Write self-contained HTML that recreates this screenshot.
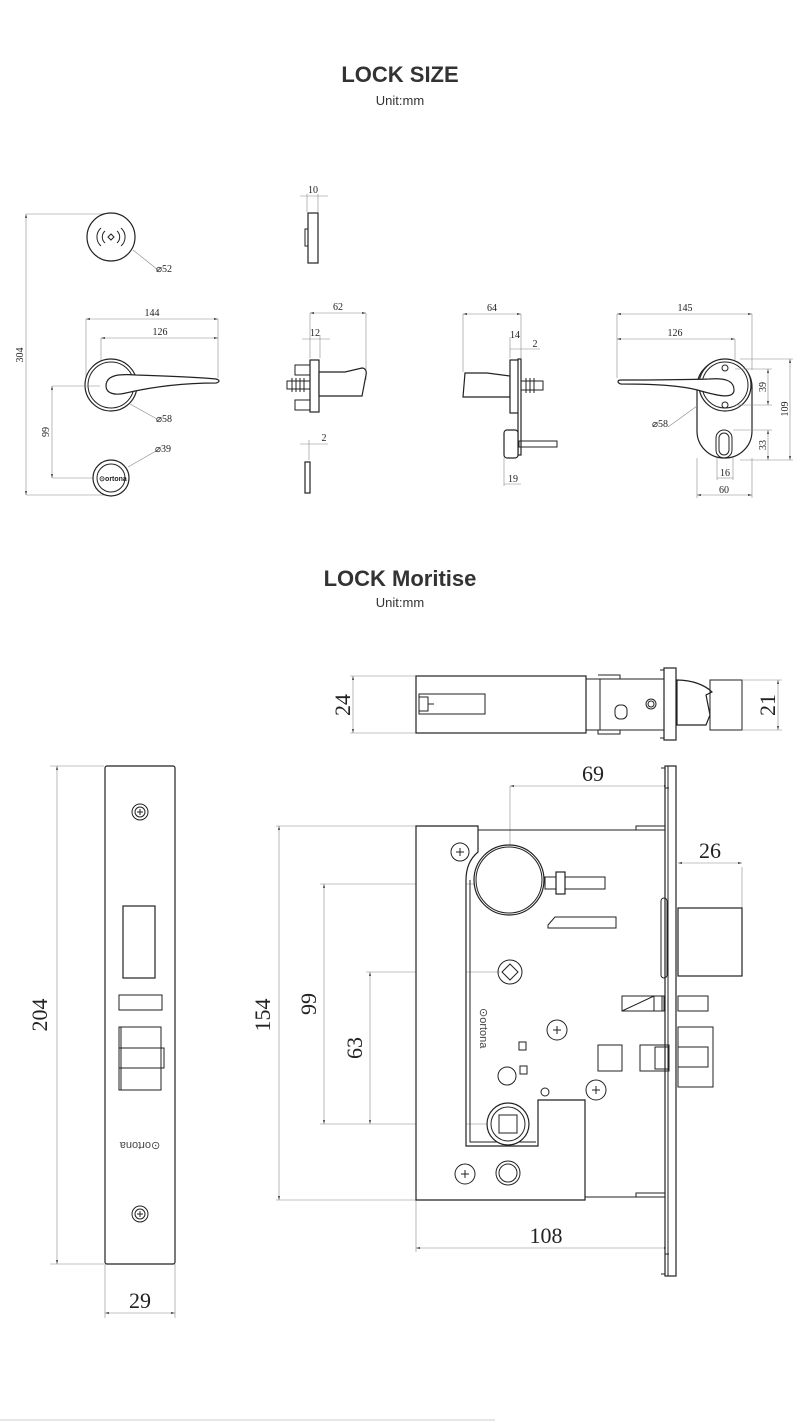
<!DOCTYPE html>
<html><head><meta charset="utf-8"><style>
html,body{margin:0;padding:0;background:#fff;}
svg{display:block}
.t{font-family:"Liberation Sans",sans-serif;fill:#333;text-anchor:middle}
.d{font-family:"Liberation Serif",serif;fill:#222;text-anchor:middle}
.l{stroke:#222;fill:none;stroke-width:1}
.g{stroke:#888;fill:none;stroke-width:0.6}
.k{stroke:#222;fill:#fff;stroke-width:1.2}
</style></head><body>
<svg width="800" height="1423" viewBox="0 0 800 1423" xmlns="http://www.w3.org/2000/svg">
<defs>
<marker id="a" viewBox="0 0 10 6" refX="10" refY="3" markerWidth="8" markerHeight="4" orient="auto-start-reverse"><path d="M0,0L10,3L0,6z" fill="#555"/></marker>
</defs>
<text class="t" x="400" y="82" font-size="22" font-weight="bold">LOCK SIZE</text>
<text class="t" x="400" y="105" font-size="13">Unit:mm</text>
<text class="t" x="400" y="586" font-size="22" font-weight="bold">LOCK Moritise</text>
<text class="t" x="400" y="607" font-size="13">Unit:mm</text>

<!-- TOP: left column -->
<g>
<line class="g" x1="26" y1="214" x2="110" y2="214"/><line class="g" x1="26" y1="495" x2="110" y2="495"/>
<line class="g" x1="26" y1="214" x2="26" y2="495" marker-start="url(#a)" marker-end="url(#a)"/>
<text class="d" font-size="10" transform="translate(23,355) rotate(-90)">304</text>
<circle class="k" cx="111" cy="237" r="24"/>
<path class="l" d="M101,228a12,12 0 0 0 0,18M105,231a8,8 0 0 0 0,12M121,228a12,12 0 0 1 0,18M117,231a8,8 0 0 1 0,12M108,237l3,-3l3,3l-3,3z" stroke-width="1.4"/>
<line class="g" x1="133" y1="250" x2="158" y2="270"/><text class="d" x="164" y="272" font-size="10">⌀52</text>
<line class="g" x1="86" y1="319" x2="218" y2="319" marker-start="url(#a)" marker-end="url(#a)"/><text class="d" x="152" y="316" font-size="10">144</text>
<line class="g" x1="101" y1="338" x2="218" y2="338" marker-start="url(#a)" marker-end="url(#a)"/><text class="d" x="160" y="335" font-size="10">126</text>
<line class="g" x1="86" y1="319" x2="86" y2="385"/><line class="g" x1="101" y1="338" x2="101" y2="385"/><line class="g" x1="218" y1="319" x2="218" y2="378"/>
<circle class="k" cx="111" cy="385" r="26"/><circle class="l" cx="111" cy="385" r="23"/>
<path class="k" d="M106,386c0,-12 15,-12 30,-11c30,1 60,2 80,4c4,1 4,3 0,4c-30,0 -60,3 -90,10c-12,3 -20,0 -20,-7z" stroke-width="1.6"/>
<line class="g" x1="130" y1="404" x2="157" y2="419"/><text class="d" x="164" y="422" font-size="10">⌀58</text>
<line class="g" x1="52" y1="386" x2="100" y2="386"/><line class="g" x1="52" y1="478" x2="95" y2="478"/>
<line class="g" x1="52" y1="386" x2="52" y2="478" marker-start="url(#a)" marker-end="url(#a)"/>
<text class="d" font-size="10" transform="translate(49,432) rotate(-90)">99</text>
<circle class="k" cx="111" cy="478" r="18" stroke-width="1.6"/><circle class="l" cx="111" cy="478" r="14"/>
<text x="113" y="481" font-family="Liberation Sans" font-size="7" font-weight="bold" text-anchor="middle" fill="#222">⊙ortona</text>
<line class="g" x1="128" y1="467" x2="156" y2="451"/><text class="d" x="163" y="452" font-size="10">⌀39</text>
</g>

<!-- side views -->
<g>
<line class="g" x1="307" y1="194" x2="307" y2="212"/><line class="g" x1="318" y1="194" x2="318" y2="212"/>
<line class="g" x1="300" y1="196" x2="328" y2="196"/><text class="d" x="313" y="193" font-size="10">10</text>
<rect class="k" x="308" y="213" width="10" height="50"/><rect class="l" x="305" y="229" width="3" height="17"/>

<line class="g" x1="310" y1="313" x2="366" y2="313" marker-start="url(#a)" marker-end="url(#a)"/><text class="d" x="338" y="310" font-size="10">62</text>
<line class="g" x1="310" y1="313" x2="310" y2="358"/><line class="g" x1="366" y1="313" x2="366" y2="380"/>
<line class="g" x1="302" y1="339" x2="330" y2="339"/><line class="g" x1="320" y1="335" x2="320" y2="358"/><text class="d" x="315" y="336" font-size="10">12</text>
<rect class="l" x="295" y="365" width="15" height="10"/><rect class="l" x="295" y="400" width="15" height="10"/>
<rect class="l" x="287" y="381" width="23" height="8"/><path class="l" d="M292,378v14M296,378v14M300,378v14M304,378v14"/>
<rect class="k" x="310" y="360" width="9" height="52"/>
<path class="k" d="M319,372h26l17,-4c3,0 5,3 4,7l-4,21h-43z"/>

<line class="g" x1="300" y1="444" x2="328" y2="444"/><line class="g" x1="309" y1="440" x2="309" y2="460"/><text class="d" x="324" y="441" font-size="10">2</text>
<rect class="k" x="305" y="462" width="5" height="31"/>

<line class="g" x1="463" y1="314" x2="521" y2="314" marker-start="url(#a)" marker-end="url(#a)"/><text class="d" x="492" y="311" font-size="10">64</text>
<line class="g" x1="463" y1="314" x2="463" y2="372"/><line class="g" x1="521" y1="314" x2="521" y2="358"/>
<line class="g" x1="510" y1="337" x2="510" y2="358"/><text class="d" x="515" y="338" font-size="10">14</text>
<line class="g" x1="510" y1="349" x2="540" y2="349"/><text class="d" x="535" y="347" font-size="10">2</text>
<path class="k" d="M465,373h22l23,3v21h-47z"/>
<rect class="k" x="510" y="360" width="9" height="53"/><rect class="k" x="518" y="359" width="3" height="96"/>
<rect class="l" x="521" y="381" width="22" height="9"/><path class="l" d="M526,378v15M530,378v15M534,378v15"/>
<rect class="k" x="504" y="430" width="14" height="28" rx="3"/><rect class="l" x="519" y="441" width="38" height="6"/>
<line class="g" x1="504" y1="458" x2="504" y2="486"/><line class="g" x1="504" y1="484" x2="521" y2="484"/><text class="d" x="513" y="482" font-size="10">19</text>

<line class="g" x1="617" y1="314" x2="752" y2="314" marker-start="url(#a)" marker-end="url(#a)"/><text class="d" x="685" y="311" font-size="10">145</text>
<line class="g" x1="617" y1="339" x2="735" y2="339" marker-start="url(#a)" marker-end="url(#a)"/><text class="d" x="675" y="336" font-size="10">126</text>
<line class="g" x1="617" y1="314" x2="617" y2="378"/><line class="g" x1="752" y1="314" x2="752" y2="370"/><line class="g" x1="735" y1="339" x2="735" y2="360"/>
<rect class="k" x="697" y="360" width="55" height="98" rx="27"/>
<circle class="k" cx="725" cy="385" r="26"/><circle class="l" cx="725" cy="385" r="23"/>
<circle class="l" cx="725" cy="368" r="3"/><circle class="l" cx="725" cy="405" r="3"/>
<rect class="l" x="716" y="430" width="16" height="28" rx="8"/><rect class="l" x="719" y="433" width="10" height="22" rx="5"/>
<path class="k" d="M734,390c0,-10 -10,-12 -25,-11c-30,1 -60,1 -88,1c-4,0 -4,3 0,4c30,0 60,1 80,7c14,4 33,9 33,-1z" stroke-width="1.6"/>
<line class="g" x1="668" y1="427" x2="697" y2="406"/><text class="d" x="660" y="427" font-size="10">⌀58</text>
<line class="g" x1="735" y1="369" x2="772" y2="369"/><line class="g" x1="735" y1="405" x2="772" y2="405"/>
<line class="g" x1="768" y1="369" x2="768" y2="405" marker-start="url(#a)" marker-end="url(#a)"/><text class="d" font-size="10" transform="translate(766,387) rotate(-90)">39</text>
<line class="g" x1="740" y1="359" x2="793" y2="359"/><line class="g" x1="740" y1="460" x2="793" y2="460"/>
<line class="g" x1="790" y1="359" x2="790" y2="460" marker-start="url(#a)" marker-end="url(#a)"/><text class="d" font-size="10" transform="translate(788,409) rotate(-90)">109</text>
<line class="g" x1="733" y1="430" x2="772" y2="430"/>
<line class="g" x1="768" y1="430" x2="768" y2="460" marker-start="url(#a)" marker-end="url(#a)"/><text class="d" font-size="10" transform="translate(766,445) rotate(-90)">33</text>
<line class="g" x1="717" y1="458" x2="717" y2="480"/><line class="g" x1="733" y1="458" x2="733" y2="480"/><line class="g" x1="717" y1="478" x2="733" y2="478"/><text class="d" x="725" y="476" font-size="10">16</text>
<line class="g" x1="697" y1="458" x2="697" y2="498"/><line class="g" x1="752" y1="458" x2="752" y2="498"/>
<line class="g" x1="697" y1="495" x2="752" y2="495" marker-start="url(#a)" marker-end="url(#a)"/><text class="d" x="724" y="493" font-size="10">60</text>
</g>

<!-- MORTISE top view -->
<g>
<line class="g" x1="350" y1="676" x2="416" y2="676"/><line class="g" x1="350" y1="733" x2="416" y2="733"/>
<line class="g" x1="353" y1="676" x2="353" y2="733" marker-start="url(#a)" marker-end="url(#a)"/>
<text class="d" font-size="22" transform="translate(350,705) rotate(-90)">24</text>
<rect class="k" x="416" y="676" width="170" height="57"/>
<rect class="l" x="419" y="694" width="66" height="20"/><path class="l" d="M419,697h9v14h-9M428,704h6"/>
<path class="l" d="M586,679h80M586,730h80M600,679v51M598,675h22v4M598,730v4h22v-4"/>
<rect class="l" x="615" y="705" width="12" height="14" rx="5"/><circle class="l" cx="651" cy="704" r="5"/><circle class="l" cx="651" cy="704" r="3"/>
<rect class="k" x="664" y="668" width="12" height="72"/><path class="l" d="M660,670h4M660,738h4"/>
<path class="k" d="M677,680c15,0 28,5 35,12l-6,3l4,20l-4,10h-29z"/>
<rect class="l" x="710" y="680" width="32" height="50"/>
<line class="g" x1="742" y1="680" x2="782" y2="680"/><line class="g" x1="742" y1="730" x2="782" y2="730"/>
<line class="g" x1="778" y1="680" x2="778" y2="730" marker-start="url(#a)" marker-end="url(#a)"/>
<text class="d" font-size="22" transform="translate(775,705) rotate(-90)">21</text>
</g>

<!-- MORTISE faceplate -->
<g>
<line class="g" x1="50" y1="766" x2="104" y2="766"/><line class="g" x1="50" y1="1264" x2="104" y2="1264"/>
<line class="g" x1="57" y1="766" x2="57" y2="1264" marker-start="url(#a)" marker-end="url(#a)"/>
<text class="d" font-size="22" transform="translate(47,1015) rotate(-90)">204</text>
<rect class="k" x="105" y="766" width="70" height="498" rx="2"/>
<circle class="l" cx="140" cy="812" r="8"/><circle class="l" cx="140" cy="812" r="5"/><path class="l" d="M137,812h6M140,809v6"/>
<circle class="l" cx="140" cy="1214" r="8"/><circle class="l" cx="140" cy="1214" r="5"/><path class="l" d="M137,1214h6M140,1211v6"/>
<rect class="k" x="123" y="906" width="32" height="72"/>
<rect class="l" x="119" y="995" width="43" height="15"/>
<rect class="l" x="119" y="1027" width="42" height="63"/><path class="l" d="M119,1048h45v20h-45M121,1027v63"/>
<text x="140" y="1150" font-family="Liberation Sans" font-size="11" text-anchor="middle" fill="#444" transform="rotate(180,140,1146)">⊙ortona</text>
<line class="g" x1="105" y1="1264" x2="105" y2="1318"/><line class="g" x1="175" y1="1264" x2="175" y2="1318"/>
<line class="g" x1="105" y1="1313" x2="175" y2="1313" marker-start="url(#a)" marker-end="url(#a)"/>
<text class="d" x="140" y="1308" font-size="22">29</text>
</g>

<!-- MORTISE front -->
<g>
<line class="g" x1="510" y1="786" x2="668" y2="786" marker-start="url(#a)" marker-end="url(#a)"/><line class="g" x1="510" y1="786" x2="510" y2="884"/>
<text class="d" x="593" y="781" font-size="22">69</text>
<line class="g" x1="276" y1="826" x2="416" y2="826"/><line class="g" x1="276" y1="1200" x2="416" y2="1200"/>
<line class="g" x1="279" y1="826" x2="279" y2="1200" marker-start="url(#a)" marker-end="url(#a)"/>
<text class="d" font-size="22" transform="translate(270,1015) rotate(-90)">154</text>
<line class="g" x1="320" y1="884" x2="505" y2="884"/><line class="g" x1="320" y1="1124" x2="505" y2="1124"/>
<line class="g" x1="324" y1="884" x2="324" y2="1124" marker-start="url(#a)" marker-end="url(#a)"/>
<text class="d" font-size="22" transform="translate(316,1004) rotate(-90)">99</text>
<line class="g" x1="366" y1="972" x2="500" y2="972"/>
<line class="g" x1="370" y1="972" x2="370" y2="1124" marker-start="url(#a)" marker-end="url(#a)"/>
<text class="d" font-size="22" transform="translate(362,1048) rotate(-90)">63</text>
<line class="g" x1="416" y1="1200" x2="416" y2="1252"/>
<line class="g" x1="416" y1="1248" x2="668" y2="1248" marker-start="url(#a)" marker-end="url(#a)"/>
<text class="d" x="546" y="1243" font-size="22">108</text>
<line class="g" x1="742" y1="867" x2="742" y2="908"/>
<line class="g" x1="678" y1="863" x2="742" y2="863" marker-start="url(#a)" marker-end="url(#a)"/>
<text class="d" x="710" y="858" font-size="22">26</text>

<path class="l" d="M478,830H668M585,1197H668M636,830v-4h30M636,1197v-4h30"/>
<path class="k" d="M416,826H478V852Q466,862 466,880V1146H538V1100H585V1200H416Z"/>
<path class="l" d="M470,880V1142H536"/>
<rect class="k" x="665" y="766" width="11" height="510"/><path class="l" d="M668,766v510M661,768h4v20h4M661,1274h4v-20h4"/>
<circle class="k" cx="509" cy="880" r="35"/><circle class="l" cx="509" cy="880" r="33"/>
<rect class="l" x="545" y="877" width="60" height="12"/><rect class="k" x="556" y="872" width="9" height="22"/>
<path class="l" d="M548,925l7,-8h61v11h-68z"/>
<circle class="l" cx="510" cy="972" r="12"/><path class="l" d="M510,964l8,8l-8,8l-8,-8z"/>
<circle class="k" cx="508" cy="1124" r="21"/><circle class="l" cx="508" cy="1124" r="17"/><rect class="l" x="499" y="1115" width="18" height="18"/>
<g class="l">
<circle cx="460" cy="852" r="9"/><path d="M456,852h8M460,848v8"/>
<circle cx="557" cy="1030" r="10"/><path d="M553,1030h8M557,1026v8"/>
<circle cx="596" cy="1090" r="10"/><path d="M592,1090h8M596,1086v8"/>
<circle cx="465" cy="1174" r="10"/><path d="M461,1174h8M465,1170v8"/>
<circle cx="508" cy="1173" r="12"/><circle cx="508" cy="1173" r="9"/>
<circle cx="507" cy="1076" r="9"/><circle cx="545" cy="1092" r="4"/>
<rect x="519" y="1042" width="7" height="8"/><rect x="520" y="1066" width="7" height="8"/>
</g>
<text x="0" y="0" font-family="Liberation Sans" font-size="11" fill="#444" transform="translate(480,1008) rotate(90)">⊙ortona</text>
<rect class="l" x="661" y="898" width="6" height="80" rx="3"/>
<rect class="k" x="678" y="908" width="64" height="68"/>
<path class="l" d="M622,996h42v15h-42zM622,1011l32,-15"/><rect class="l" x="654" y="996" width="8" height="15"/>
<rect class="l" x="678" y="996" width="30" height="15"/>
<rect class="l" x="598" y="1045" width="24" height="26"/>
<path class="l" d="M640,1045h29v26h-29zM655,1047h13v22h-13zM678,1027h35v60h-35zM678,1047h30v20h-30"/>
</g>
<line x1="0" y1="1420" x2="495" y2="1420" stroke="#ccc" stroke-width="1"/>
</svg>
</body></html>
